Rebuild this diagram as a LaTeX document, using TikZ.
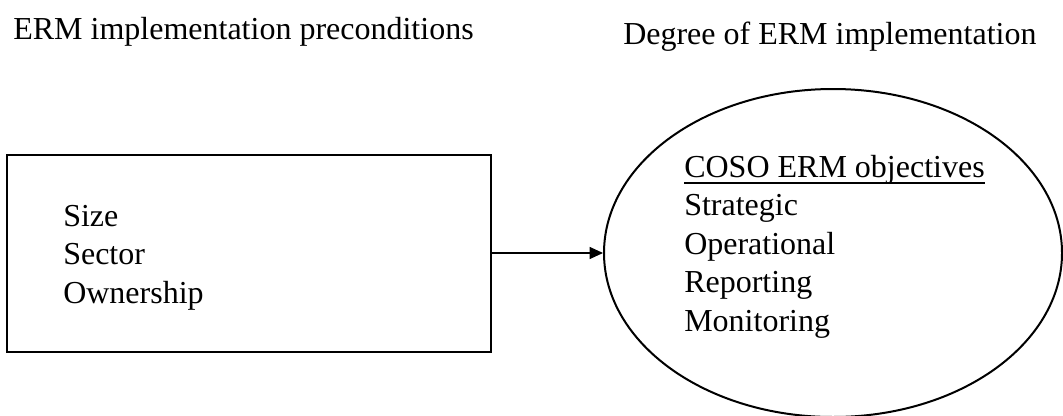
\documentclass[tikz,border=0pt]{standalone}
\usepackage{fontspec}
\setmainfont{Liberation Serif}
\usetikzlibrary{shapes.geometric,arrows.meta}
\begin{document}
\begin{tikzpicture}[x=0.75pt,y=-0.75pt,
  txt/.style={anchor=base west,inner sep=0pt,font=\fontsize{24pt}{28.8pt}\selectfont},
  frame/.style={draw,line width=1.5pt,inner sep=0pt},
  link/.style={line width=0.8pt,-{Triangle[length=10pt,width=9pt]}}]
\useasboundingbox (0,0) rectangle (1063,415);
\node[frame,rectangle,minimum width=363pt,minimum height=147.75pt] (box) at (249,253) {};
\node[frame,ellipse,minimum width=343.5pt,minimum height=246pt] (ell) at (833,253) {};
\draw[link] (box.east) -- (ell.west);
\node[txt] (t1) at (13,39) {ERM implementation preconditions};
\node[txt] (t2) at (623,44) {Degree of ERM implementation};
\node[txt] (size) at (63,226) {Size};
\node[txt] (sector) at (63,264.5) {Sector};
\node[txt] (owner) at (63,303) {Ownership};
\node[txt] (coso) at (684,177) {COSO ERM objectives};
\draw[line width=1.1pt] ([yshift=-4.5pt]coso.base west) -- ([yshift=-4.5pt]coso.base east);
\node[txt] (strat) at (684,215.5) {Strategic};
\node[txt] (oper) at (684,254) {Operational};
\node[txt] (rep) at (684,292.5) {Reporting};
\node[txt] (mon) at (684,331) {Monitoring};
\end{tikzpicture}
\end{document}
